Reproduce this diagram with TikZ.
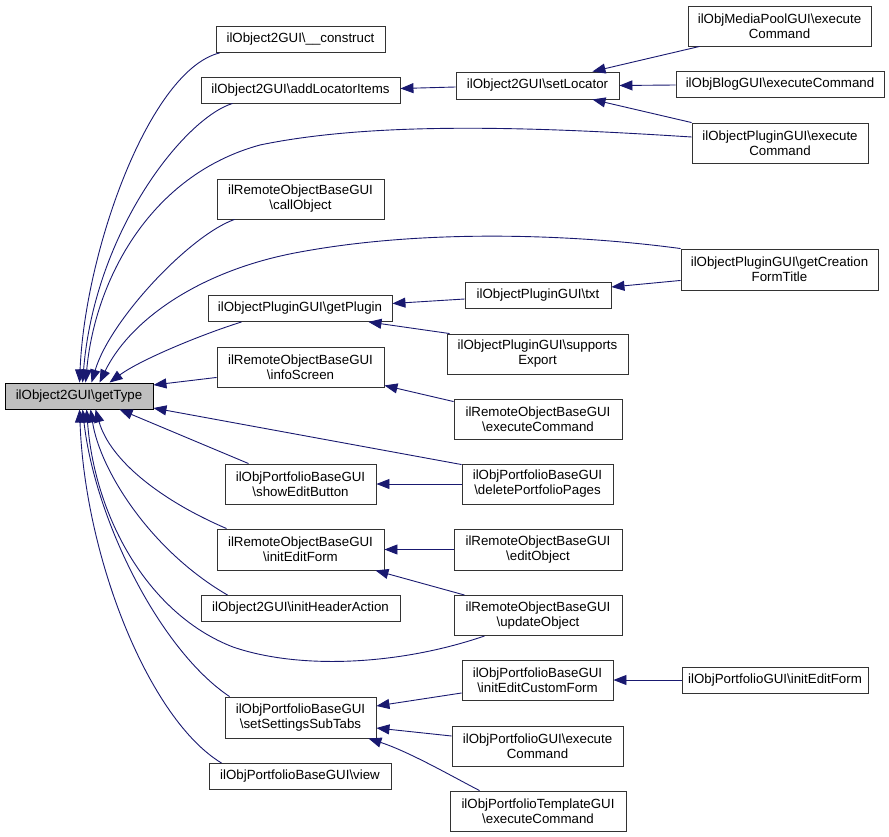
\documentclass[tikz,border=0pt]{standalone}
\usepackage{fontspec}
\setmainfont{Liberation Sans}
\usetikzlibrary{arrows.meta,calc}
\definecolor{edgecol}{HTML}{191970}
\definecolor{rootfill}{HTML}{BFBFBF}
\tikzset{
  box/.style={draw=black!80, fill=white, line width=0.9pt, inner sep=0pt, align=center,
    font=\fontsize{13.3}{15}\selectfont},
  rootbox/.style={box, fill=rootfill, draw=black},
  edge/.style={draw=edgecol, line width=0.9pt, -{Triangle[length=13pt,width=10pt]}}
}
\begin{document}
\begin{tikzpicture}[x=1pt,y=-1pt]
\useasboundingbox (0,0) rectangle (889,837);
% column 1
\node[rootbox, minimum width=148, minimum height=26] (root) at (79,396) {ilObject2GUI\textbackslash getType};
% column 2
\node[box, minimum width=169, minimum height=26] (construct) at (300.5,39.5) {ilObject2GUI\textbackslash\_\_construct};
\node[box, minimum width=199, minimum height=26] (addloc) at (300.5,90) {ilObject2GUI\textbackslash addLocatorItems};
\node[box, minimum width=167, minimum height=40] (callobj) at (300.5,199) {ilRemoteObjectBaseGUI\\\textbackslash callObject};
\node[box, minimum width=184, minimum height=26] (getplugin) at (300,308.5) {ilObjectPluginGUI\textbackslash getPlugin};
\node[box, minimum width=167, minimum height=40] (infoscreen) at (300.5,367) {ilRemoteObjectBaseGUI\\\textbackslash infoScreen};
\node[box, minimum width=151, minimum height=40] (showedit) at (300.5,484) {ilObjPortfolioBaseGUI\\\textbackslash showEditButton};
\node[box, minimum width=167, minimum height=41] (initedit) at (300.5,549.5) {ilRemoteObjectBaseGUI\\\textbackslash initEditForm};
\node[box, minimum width=199, minimum height=26] (initheader) at (300.5,608.5) {ilObject2GUI\textbackslash initHeaderAction};
\node[box, minimum width=151, minimum height=41] (settabs) at (300.5,717.5) {ilObjPortfolioBaseGUI\\\textbackslash setSettingsSubTabs};
\node[box, minimum width=182, minimum height=26] (view) at (300,776.5) {ilObjPortfolioBaseGUI\textbackslash view};
% column 3
\node[box, minimum width=163, minimum height=27] (setloc) at (537.5,85.5) {ilObject2GUI\textbackslash setLocator};
\node[box, minimum width=146, minimum height=26] (txt) at (538,295) {ilObjectPluginGUI\textbackslash txt};
\node[box, minimum width=181, minimum height=40] (supports) at (537.5,354) {ilObjectPluginGUI\textbackslash supports\\Export};
\node[box, minimum width=168, minimum height=40] (remexec) at (538,419) {ilRemoteObjectBaseGUI\\\textbackslash executeCommand};
\node[box, minimum width=151, minimum height=40] (delpp) at (537.5,484) {ilObjPortfolioBaseGUI\\\textbackslash deletePortfolioPages};
\node[box, minimum width=168, minimum height=41] (editobj) at (538,549.5) {ilRemoteObjectBaseGUI\\\textbackslash editObject};
\node[box, minimum width=168, minimum height=40] (updobj) at (538,615.5) {ilRemoteObjectBaseGUI\\\textbackslash updateObject};
\node[box, minimum width=151, minimum height=40] (initcustom) at (537.5,680) {ilObjPortfolioBaseGUI\\\textbackslash initEditCustomForm};
\node[box, minimum width=171, minimum height=40] (portexec) at (537.5,746) {ilObjPortfolioGUI\textbackslash execute\\Command};
\node[box, minimum width=176, minimum height=40] (tplexec) at (538,811) {ilObjPortfolioTemplateGUI\\\textbackslash executeCommand};
% column 4
\node[box, minimum width=183, minimum height=40] (mediapool) at (779.5,26) {ilObjMediaPoolGUI\textbackslash execute\\Command};
\node[box, minimum width=208, minimum height=26] (blog) at (780,84) {ilObjBlogGUI\textbackslash executeCommand};
\node[box, minimum width=176, minimum height=40] (plugexec) at (780,143) {ilObjectPluginGUI\textbackslash execute\\Command};
\node[box, minimum width=197, minimum height=41] (creation) at (779.5,269.5) {ilObjectPluginGUI\textbackslash getCreation\\FormTitle};
\node[box, minimum width=186, minimum height=26] (portinit) at (775,680) {ilObjPortfolioGUI\textbackslash initEditForm};
% edges into root (top)
\draw[edge] ($(construct.south west)+(4,0)$) .. controls (150,70) and (85,250) .. ($(root.north west)+(75,0)$);
\draw[edge] ($(addloc.south west)+(32,0)$) .. controls (185,118) and (95,230) .. ($(root.north west)+(78,0)$);
\draw[edge] ($(plugexec.west)+(0,-6)$) .. controls (550,128) and (380,120) .. (260,145) .. controls (150,175) and (95,280) .. ($(root.north west)+(81,0)$);
\draw[edge] ($(callobj.south west)+(18,0)$) .. controls (190,235) and (110,320) .. ($(root.north west)+(87,0)$);
\draw[edge] (creation.north west) .. controls (580,235) and (430,228) .. (300,252) .. controls (200,270) and (130,320) .. ($(root.north west)+(95,0)$);
\draw[edge] ($(getplugin.south west)+(34,0)$) .. controls (200,335) and (140,360) .. ($(root.north west)+(105,0)$);
% edges into root (side)
\draw[edge] ($(infoscreen.south west)+(0,-10)$) -- ($(root.east)+(0,-11)$);
\draw[edge] ($(delpp.north west)+(0,1)$) -- ($(root.east)+(0,12)$);
% edges into root (bottom)
\draw[edge] ($(showedit.north west)+(24,0)$) -- ($(root.south west)+(115,0)$);
\draw[edge] ($(initedit.north west)+(10,0)$) .. controls (160,500) and (110,460) .. ($(root.south west)+(91,0)$);
\draw[edge] ($(initheader.north west)+(27,0)$) .. controls (150,550) and (100,470) .. ($(root.south west)+(86,0)$);
\draw[edge] ($(updobj.south west)+(31,0)$) .. controls (400,665) and (300,670) .. (233,647) .. controls (150,615) and (95,520) .. ($(root.south west)+(82,0)$);
\draw[edge] ($(settabs.north west)+(5,0)$) .. controls (160,650) and (95,520) .. ($(root.south west)+(78,0)$);
\draw[edge] ($(view.north west)+(13,0)$) .. controls (150,720) and (85,560) .. ($(root.south west)+(75,0)$);
% other edges
\draw[edge] ($(setloc.west)+(0,1.5)$) -- ($(addloc.east)+(0,-1.5)$);
\draw[edge] ($(mediapool.south west)+(12,0)$) -- ($(setloc.north east)+(-27,0)$);
\draw[edge] ($(blog.west)+(0,1)$) -- (setloc.east);
\draw[edge] (plugexec.north west) -- ($(setloc.south east)+(-27,0)$);
\draw[edge] ($(txt.west)+(0,4)$) -- ($(getplugin.east)+(0,-5)$);
\draw[edge] ($(supports.north west)+(3,0)$) -- ($(getplugin.south east)+(-24,0)$);
\draw[edge] ($(creation.south west)+(0,-10)$) -- ($(txt.east)+(0,-8)$);
\draw[edge] ($(remexec.north west)+(0,3)$) -- ($(infoscreen.south east)+(0,-2)$);
\draw[edge] (delpp.west) -- (showedit.east);
\draw[edge] (editobj.west) -- (initedit.east);
\draw[edge] ($(updobj.north west)+(11,0)$) -- ($(initedit.south east)+(-9,0)$);
\draw[edge] ($(initcustom.west)+(0,13)$) -- ($(settabs.east)+(0,-11.5)$);
\draw[edge] ($(portexec.west)+(0,-10)$) -- ($(settabs.east)+(0,10.5)$);
\draw[edge] ($(tplexec.north west)+(30,0)$) .. controls (455,778) and (410,752) .. ($(settabs.south east)+(-8,0)$);
\draw[edge] (portinit.west) -- (initcustom.east);
\end{tikzpicture}
\end{document}
